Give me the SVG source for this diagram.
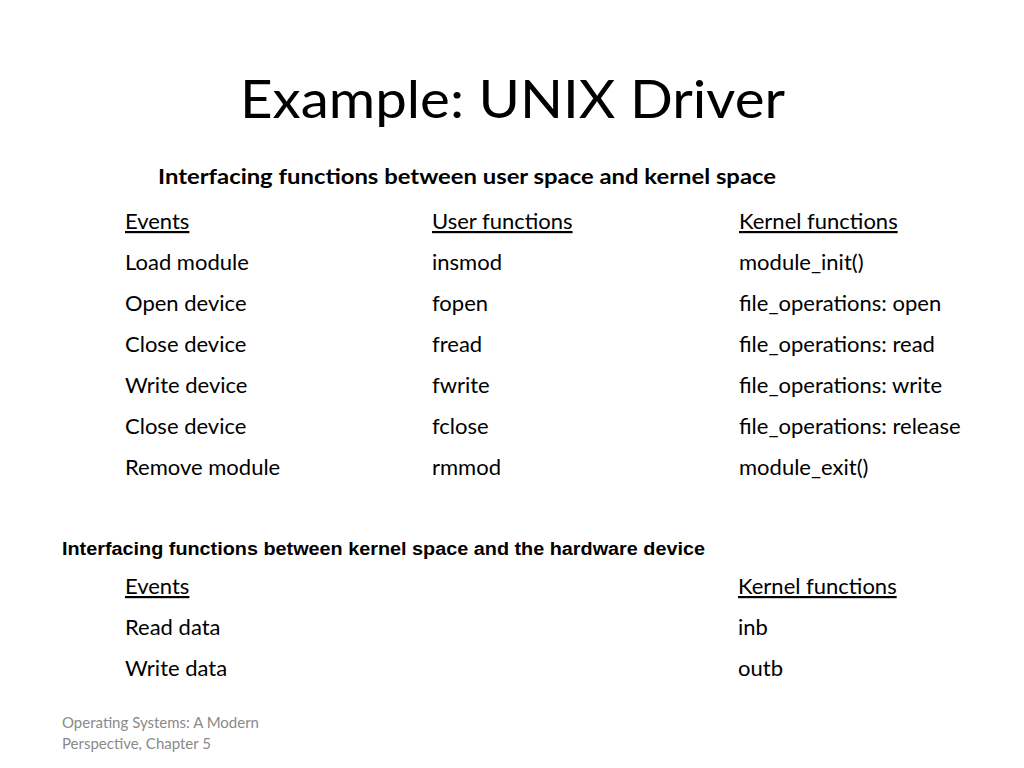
<svg xmlns="http://www.w3.org/2000/svg" width="1024" height="768" viewBox="0 0 1024 768">
<style>
.t{font-family:Lato,"Open Sans",sans-serif;fill:#000}
.r{font-size:22px}
.u{text-decoration:underline}
</style>
<rect width="1024" height="768" fill="#fff"/>
<text class="t" x="240" y="118" font-size="52" textLength="545" lengthAdjust="spacingAndGlyphs">Example: UNIX Driver</text>
<text class="t" x="158" y="184" font-size="21" font-weight="bold" textLength="618" lengthAdjust="spacingAndGlyphs">Interfacing functions between user space and kernel space</text>
<g class="t r">
<text x="125" y="229" class="u">Events</text><text x="432" y="229" class="u">User functions</text><text x="739" y="229" class="u">Kernel functions</text>
<text x="125" y="270">Load module</text><text x="432" y="270">insmod</text><text x="739" y="270">module_init()</text>
<text x="125" y="311">Open device</text><text x="432" y="311">fopen</text><text x="739" y="311">file_operations: open</text>
<text x="125" y="352">Close device</text><text x="432" y="352">fread</text><text x="739" y="352">file_operations: read</text>
<text x="125" y="393">Write device</text><text x="432" y="393">fwrite</text><text x="739" y="393">file_operations: write</text>
<text x="125" y="434">Close device</text><text x="432" y="434">fclose</text><text x="739" y="434">file_operations: release</text>
<text x="125" y="475">Remove module</text><text x="432" y="475">rmmod</text><text x="739" y="475">module_exit()</text>
</g>
<text x="62" y="555" font-family="Liberation Sans,Arial,sans-serif" font-size="17.5" font-weight="bold" textLength="643" lengthAdjust="spacingAndGlyphs">Interfacing functions between kernel space and the hardware device</text>
<g class="t r">
<text x="125" y="594" class="u">Events</text><text x="738" y="594" class="u">Kernel functions</text>
<text x="125" y="635">Read data</text><text x="738" y="635">inb</text>
<text x="125" y="676">Write data</text><text x="738" y="676">outb</text>
</g>
<g class="t" font-size="15" style="fill:#8a8a8a">
<text x="62" y="728">Operating Systems: A Modern</text>
<text x="62" y="749">Perspective, Chapter 5</text>
</g>
</svg>
